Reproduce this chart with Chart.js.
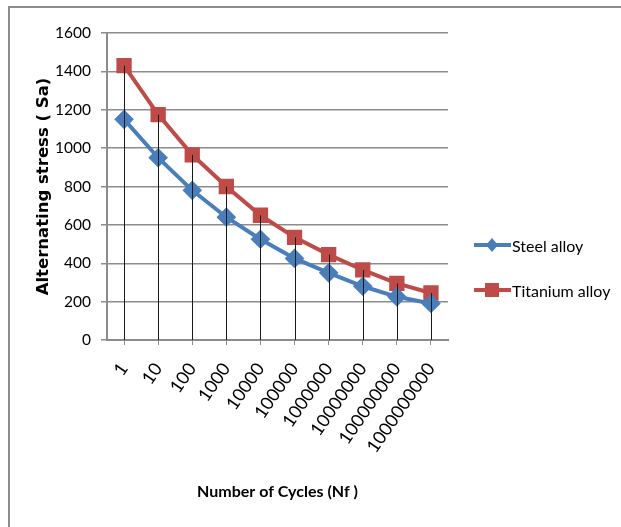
<!DOCTYPE html>
<html><head><meta charset="utf-8">
<script src="https://cdn.jsdelivr.net/npm/chart.js@4"></script>
<style>
html,body{margin:0;padding:0;background:#fff;width:621px;height:527px;overflow:hidden;position:relative;}
#frame{position:absolute;left:8px;top:6px;width:700px;height:600px;border-left:2px solid #8c8c8c;border-top:2px solid #8c8c8c;}
#wrap{position:absolute;left:0;top:0;width:621px;height:527px;}
#legend{position:absolute;left:474px;top:233px;font-family:Lato,"Open Sans",sans-serif;font-size:16px;color:#000;}
#legend .item{display:flex;align-items:center;height:24px;margin-bottom:21px;}
#legend svg{margin-right:1px;}
</style></head>
<body>
<div id="frame"></div>
<div id="wrap"><canvas id="c" width="621" height="527"></canvas></div>
<div id="legend"></div>
<script>
const categories = ["1","10","100","1000","10000","100000","1000000","10000000","100000000","1000000000"];
const steelAlloy = [1150, 950, 780, 640, 525, 425, 350, 280, 225, 190];
const titaniumAlloy = [1430, 1175, 965, 800, 650, 535, 445, 365, 295, 245];
const seriesNames = ["Steel alloy", "Titanium alloy"];
const yTicks = [0, 200, 400, 600, 800, 1000, 1200, 1400, 1600];

const blue = "#4A7EBB", red = "#BE4B48";
const fam = 'Lato,"Open Sans",sans-serif';

const dropLines = {
  id: 'dropLines',
  afterDatasetsDraw(chart) {
    const ctx = chart.ctx, xs = chart.scales.x, ys = chart.scales.y;
    ctx.save();
    ctx.strokeStyle = '#1a1a1a';
    ctx.lineWidth = 1;
    categories.forEach((c, i) => {
      const top = Math.max(...chart.data.datasets.map(d => d.data[i]));
      const x = Math.round(xs.getPixelForValue(i)) + 0.5;
      ctx.beginPath();
      ctx.moveTo(x, ys.getPixelForValue(top));
      ctx.lineTo(x, ys.getPixelForValue(0));
      ctx.stroke();
    });
    ctx.restore();
  }
};

new Chart(document.getElementById('c'), {
  type: 'line',
  data: {
    labels: categories,
    datasets: [
      {label: seriesNames[0], data: steelAlloy, borderColor: blue, backgroundColor: blue, borderWidth: 4,
       pointStyle: 'rectRot', pointRadius: 7, pointHoverRadius: 7, tension: 0},
      {label: seriesNames[1], data: titaniumAlloy, borderColor: red, backgroundColor: red, borderWidth: 4,
       pointStyle: 'rect', pointRadius: 8, pointHoverRadius: 8, tension: 0}
    ]
  },
  options: {
    responsive: false, animation: false, devicePixelRatio: 1,
    layout: {padding: {left: 34, top: 33, right: 173, bottom: 26}},
    plugins: {legend: {display: false}, tooltip: {enabled: false}},
    scales: {
      x: {
        offset: true,
        grid: {offset: false, drawOnChartArea: false, drawTicks: true, tickLength: 5, color: '#8c8c8c', lineWidth: 1},
        border: {color: '#8c8c8c', width: 2},
        ticks: {font: {family: fam, size: 18}, color: '#000', maxRotation: 55, minRotation: 55, padding: 14, autoSkip: false},
        title: {display: true, text: 'Number of Cycles (Nf )', color: '#000',
                font: {family: fam, size: 16, weight: 'bold'}, padding: 0},
        afterFit(s) { s.height = 161; }
      },
      y: {
        min: 0, max: 1600,
        afterBuildTicks(s) { s.ticks = yTicks.map(v => ({value: v})); },
        grid: {color: '#8c8c8c', lineWidth: 1.5, tickLength: 6},
        border: {color: '#8c8c8c', width: 2},
        ticks: {font: {family: fam, size: 15.5}, color: '#000', padding: 10, callback: v => String(v)},
        title: {display: true, text: 'Alternating stress ( Sa)', color: '#000',
                font: {family: '"DejaVu Sans",Verdana,sans-serif', size: 16.5, weight: 'bold'}, padding: 0},
        afterFit(s) { s.width = 73; }
      }
    }
  },
  plugins: [dropLines]
});

// HTML legend
const leg = document.getElementById('legend');
[[seriesNames[0], blue, 'diamond'], [seriesNames[1], red, 'square']].forEach(([name, col, shape]) => {
  const d = document.createElement('div'); d.className = 'item';
  const mark = shape === 'diamond'
    ? `<polygon points="18,5 24,12 18,19 12,12" fill="${col}"/>`
    : `<rect x="11" y="5" width="14" height="14" fill="${col}"/>`;
  d.innerHTML = `<svg width="37" height="24"><line x1="0" y1="12" x2="37" y2="12" stroke="${col}" stroke-width="4"/>${mark}</svg><span>${name}</span>`;
  leg.appendChild(d);
});
</script>
</body></html>
